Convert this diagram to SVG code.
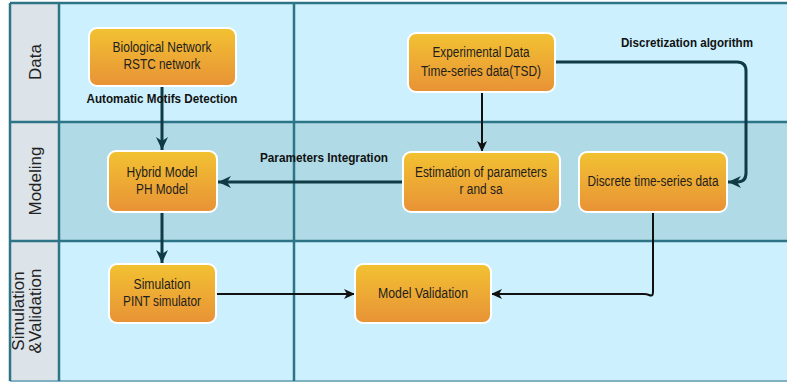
<svg xmlns="http://www.w3.org/2000/svg" width="787" height="382" viewBox="0 0 787 382">
<defs>
<linearGradient id="g" x1="0" y1="0" x2="0" y2="1">
<stop offset="0" stop-color="#f2c232"/>
<stop offset="1" stop-color="#e89236"/>
</linearGradient>
<marker id="at" markerUnits="userSpaceOnUse" markerWidth="14" markerHeight="14" viewBox="0 0 14 14" refX="13" refY="7" orient="auto">
<path d="M0,1 L13,7 L0,13 L4,7 z" fill="#0e3b45"/>
</marker>
<marker id="ab" markerUnits="userSpaceOnUse" markerWidth="12" markerHeight="12" viewBox="0 0 12 12" refX="11" refY="6" orient="auto">
<path d="M0,1 L11,6 L0,11 L3,6 z" fill="#111"/>
</marker>
<style>
.node rect{fill:url(#g);stroke:#fff;stroke-width:2}
.nt{font-family:"Liberation Sans",Arial,sans-serif;font-size:14px;fill:#1e1e1e;text-anchor:middle}
.lb{font-family:"Liberation Sans",Arial,sans-serif;font-size:13px;font-weight:bold;fill:#111;text-anchor:middle}
.rl{font-family:"Liberation Sans",Arial,sans-serif;font-size:17px;fill:#222;text-anchor:middle}
.grid{stroke:#2d7486;stroke-width:2.5;fill:none}
.ct{stroke:#0e3b45;stroke-width:3;fill:none}
.cb{stroke:#111;stroke-width:2;fill:none}
</style>
</defs>
<g id="lanes">
<rect x="10" y="3" width="777" height="378" fill="#ccf0fd"/>
<rect x="59" y="122" width="728" height="119" fill="#b0dbe6"/>
<rect x="10" y="3" width="49" height="378" fill="#dce3e9"/>
<line class="grid" x1="10" y1="3" x2="787" y2="3"/>
<line class="grid" x1="10" y1="122" x2="787" y2="122"/>
<line class="grid" x1="10" y1="241" x2="787" y2="241"/>
<line x1="10" y1="381" x2="787" y2="381" stroke="#7fb1c2" stroke-width="2"/>
<line class="grid" x1="10" y1="3" x2="10" y2="381"/>
<line class="grid" x1="59" y1="3" x2="59" y2="381"/>
<line class="grid" x1="294" y1="3" x2="294" y2="381"/>
<text class="rl" transform="translate(41,62) rotate(-90)">Data</text>
<text class="rl" transform="translate(41,181) rotate(-90)">Modeling</text>
<text class="rl" transform="translate(24,311) rotate(-90)">Simulation</text>
<text class="rl" transform="translate(41,311) rotate(-90)">&amp;Validation</text>
</g>
<g id="connectors">
<path class="ct" d="M162,86 V150" marker-end="url(#at)"/>
<path class="cb" d="M482,92 V152" marker-end="url(#ab)"/>
<path class="ct" d="M555,62 H737 Q746,62 746,71 V173 Q746,182 737,182 H728" marker-end="url(#at)"/>
<path class="ct" d="M403,182 H218" marker-end="url(#at)"/>
<path class="ct" d="M162,212 V263" marker-end="url(#at)"/>
<path class="cb" d="M216,294 H355" marker-end="url(#ab)"/>
<path class="cb" d="M653,212 V292 Q653,297 649,295 Q647,294 644,294 H491" marker-end="url(#ab)"/>
<text class="lb" x="162" y="103" textLength="151" lengthAdjust="spacingAndGlyphs">Automatic Motifs Detection</text>
<text class="lb" x="687" y="47" textLength="132" lengthAdjust="spacingAndGlyphs">Discretization algorithm</text>
<text class="lb" x="324" y="162" textLength="128" lengthAdjust="spacingAndGlyphs">Parameters Integration</text>
</g>
<g id="bio" class="node">
<rect x="89" y="28" width="147" height="58" rx="8"/>
<text class="nt" x="162" y="52" textLength="99" lengthAdjust="spacingAndGlyphs">Biological Network</text>
<text class="nt" x="162" y="69" textLength="77" lengthAdjust="spacingAndGlyphs">RSTC network</text>
</g>
<g id="exp" class="node">
<rect x="408" y="33" width="147" height="59" rx="8"/>
<text class="nt" x="481" y="57" textLength="97" lengthAdjust="spacingAndGlyphs">Experimental Data</text>
<text class="nt" x="481" y="76" textLength="120" lengthAdjust="spacingAndGlyphs">Time-series data(TSD)</text>
</g>
<g id="hybrid" class="node">
<rect x="108" y="151" width="109" height="61" rx="8"/>
<text class="nt" x="162" y="177" textLength="71" lengthAdjust="spacingAndGlyphs">Hybrid Model</text>
<text class="nt" x="162" y="194" textLength="52" lengthAdjust="spacingAndGlyphs">PH Model</text>
</g>
<g id="estimation" class="node">
<rect x="403" y="152" width="157" height="60" rx="8"/>
<text class="nt" x="481" y="177" textLength="132" lengthAdjust="spacingAndGlyphs">Estimation of parameters</text>
<text class="nt" x="481" y="194" textLength="43" lengthAdjust="spacingAndGlyphs">r and sa</text>
</g>
<g id="discrete" class="node">
<rect x="579" y="152" width="148" height="60" rx="8"/>
<text class="nt" x="653" y="186" textLength="131" lengthAdjust="spacingAndGlyphs">Discrete time-series data</text>
</g>
<g id="simulation" class="node">
<rect x="109" y="264" width="107" height="59" rx="8"/>
<text class="nt" x="162" y="289" textLength="57" lengthAdjust="spacingAndGlyphs">Simulation</text>
<text class="nt" x="162" y="306" textLength="78" lengthAdjust="spacingAndGlyphs">PINT simulator</text>
</g>
<g id="validation" class="node">
<rect x="355" y="264" width="136" height="59" rx="8"/>
<text class="nt" x="423" y="298" textLength="90" lengthAdjust="spacingAndGlyphs">Model Validation</text>
</g>
</svg>
